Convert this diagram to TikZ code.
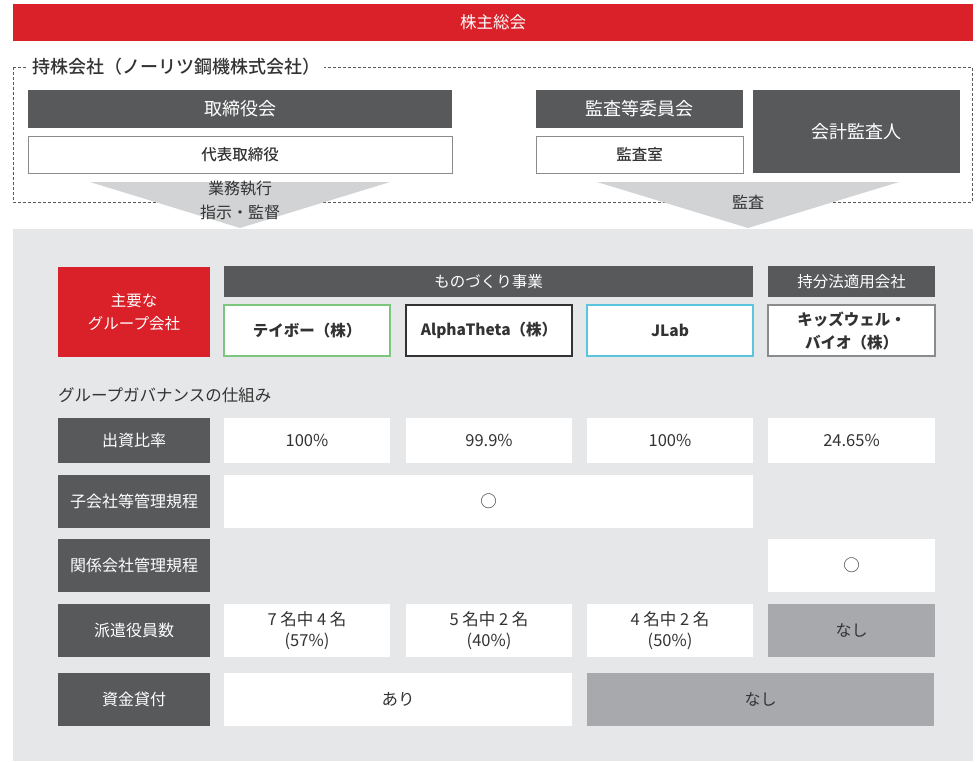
\documentclass[tikz,border=0pt]{standalone}
\usepackage{fontspec}
\setmainfont{Noto Sans CJK JP}
\newfontfamily\medfont{Noto Sans CJK JP Medium}
\definecolor{ngred}{HTML}{DA2028}
\definecolor{ngdark}{HTML}{58595B}
\definecolor{ngbg}{HTML}{E6E7E8}
\definecolor{ngarrow}{HTML}{D1D3D4}
\definecolor{nggray}{HTML}{A7A9AC}
\definecolor{ngtext}{HTML}{333333}
\definecolor{nggreen}{HTML}{7CC67E}
\definecolor{ngcyan}{HTML}{5BC5DD}
\definecolor{ngborder}{HTML}{8A8B8D}
\newcommand{\fs}[2]{\fontsize{#1pt}{#2pt}\selectfont}
\tikzset{
  box/.style={rectangle, inner sep=0pt, outer sep=0pt, align=center},
  darkbox/.style={box, fill=ngdark, text=white, font=\fs{18}{22}},
  hdrbox/.style={box, fill=ngdark, text=white, font=\fs{15.5}{20}},
  subbox/.style={box, fill=white, draw=ngborder, line width=1pt, text=ngtext, font=\medfont\fs{15.5}{20}},
  compbox/.style={box, fill=white, line width=1.2pt, text=ngtext, font=\fs{15.5}{23}\bfseries},
  rowlabel/.style={box, fill=ngdark, text=white, font=\fs{16}{20}, minimum width=152pt},
  cell/.style={box, fill=white, text=ngtext, font=\fs{16.5}{21}, align=center},
  graycell/.style={box, fill=nggray, text=ngtext, font=\fs{16}{20}},
  arrowtext/.style={text=ngtext, font=\fs{16}{20}, inner sep=0pt},
}
\begin{document}
\begin{tikzpicture}[x=1pt,y=-1pt]
\useasboundingbox (0,0) rectangle (979,761);
% top
\node[box, fill=ngred, text=white, font=\fs{16.5}{20}, minimum width=960pt, minimum height=37pt] (gm) at (493,22.5) {株主総会};
% gray background
\fill[ngbg] (13,229) rectangle (973,761);
% dashed holding company box
\draw[ngdark, line width=0.8pt, dash pattern=on 3pt off 2pt] (13,67) rectangle (972,202);
\node[anchor=west, fill=white, inner xsep=4pt, inner ysep=2pt, text=ngtext, font=\medfont\fs{18}{22}] (hold) at (28,67) {持株会社（ノーリツ鋼機株式会社）};
% board
\node[darkbox, minimum width=424pt, minimum height=38pt] (board) at (240,109) {取締役会};
\node[subbox, minimum width=424pt, minimum height=37pt] (ceo) at (240,154.5) {代表取締役};
\node[darkbox, minimum width=207pt, minimum height=38pt] (audit) at (639.5,109) {監査等委員会};
\node[subbox, minimum width=207pt, minimum height=37pt] (auditoff) at (639.5,154.5) {監査室};
\node[darkbox, minimum width=207pt, minimum height=83pt] (acct) at (856.5,131.5) {会計監査人};
% arrows
\coordinate (la1) at (90,182); \coordinate (la2) at (390,182); \coordinate (lat) at (240,228);
\fill[ngarrow] (la1) -- (la2) -- (lat) -- cycle;
\node[arrowtext] (exec1) at (240,189) {業務執行};
\node[arrowtext] (exec2) at (240,212) {指示・監督};
\coordinate (ra1) at (597,182); \coordinate (ra2) at (899,182); \coordinate (rat) at (748,228);
\fill[ngarrow] (ra1) -- (ra2) -- (rat) -- cycle;
\node[arrowtext] (aud) at (748,202) {監査};
% group companies
\node[box, fill=ngred, text=white, font=\fs{15.5}{23}, minimum width=152pt, minimum height=90pt] (main) at (134,312) {主要な\\グループ会社};
\node[hdrbox, minimum width=529pt, minimum height=31pt] (mono) at (488.5,281.5) {ものづくり事業};
\node[hdrbox, minimum width=167pt, minimum height=31pt] (equity) at (851.5,281.5) {持分法適用会社};
\node[compbox, draw=nggreen, minimum width=166pt, minimum height=51pt] (c1) at (307,330.5) {テイボー（株）};
\node[compbox, draw=ngtext, minimum width=166pt, minimum height=51pt] (c2) at (489,330.5) {AlphaTheta（株）};
\node[compbox, draw=ngcyan, minimum width=166pt, minimum height=51pt] (c3) at (670,330.5) {JLab};
\node[compbox, draw=ngborder, minimum width=167pt, minimum height=51pt] (c4) at (851.5,330.5) {キッズウェル・\\バイオ（株）};
% governance
\node[anchor=west, inner sep=0pt, text=ngtext, font=\fs{16.5}{20}] (gov) at (58,395) {グループガバナンスの仕組み};
% row 1
\node[rowlabel, minimum height=45pt] (r1) at (134,440.5) {出資比率};
\node[cell, minimum width=166pt, minimum height=45pt] (r1c1) at (307,440.5) {100\%};
\node[cell, minimum width=166pt, minimum height=45pt] (r1c2) at (489,440.5) {99.9\%};
\node[cell, minimum width=166pt, minimum height=45pt] (r1c3) at (670,440.5) {100\%};
\node[cell, minimum width=167pt, minimum height=45pt] (r1c4) at (851.5,440.5) {24.65\%};
% row 2
\node[rowlabel, minimum height=53pt] (r2) at (134,501.5) {子会社等管理規程};
\node[cell, minimum width=529pt, minimum height=53pt] (r2c1) at (488.5,501.5) {○};
% row 3
\node[rowlabel, minimum height=53pt] (r3) at (134,565.5) {関係会社管理規程};
\node[cell, minimum width=167pt, minimum height=53pt] (r3c4) at (851.5,565.5) {○};
% row 4
\node[rowlabel, minimum height=53pt] (r4) at (134,630.5) {派遣役員数};
\node[cell, minimum width=166pt, minimum height=53pt] (r4c1) at (307,630.5) {7 名中 4 名\\(57\%)};
\node[cell, minimum width=166pt, minimum height=53pt] (r4c2) at (489,630.5) {5 名中 2 名\\(40\%)};
\node[cell, minimum width=166pt, minimum height=53pt] (r4c3) at (670,630.5) {4 名中 2 名\\(50\%)};
\node[graycell, minimum width=167pt, minimum height=53pt] (r4c4) at (851.5,630.5) {なし};
% row 5
\node[rowlabel, minimum height=53pt] (r5) at (134,699.5) {資金貸付};
\node[cell, minimum width=348pt, minimum height=53pt] (r5c1) at (398,699.5) {あり};
\node[graycell, minimum width=347pt, minimum height=53pt] (r5c2) at (760.5,699.5) {なし};
\end{tikzpicture}
\end{document}
